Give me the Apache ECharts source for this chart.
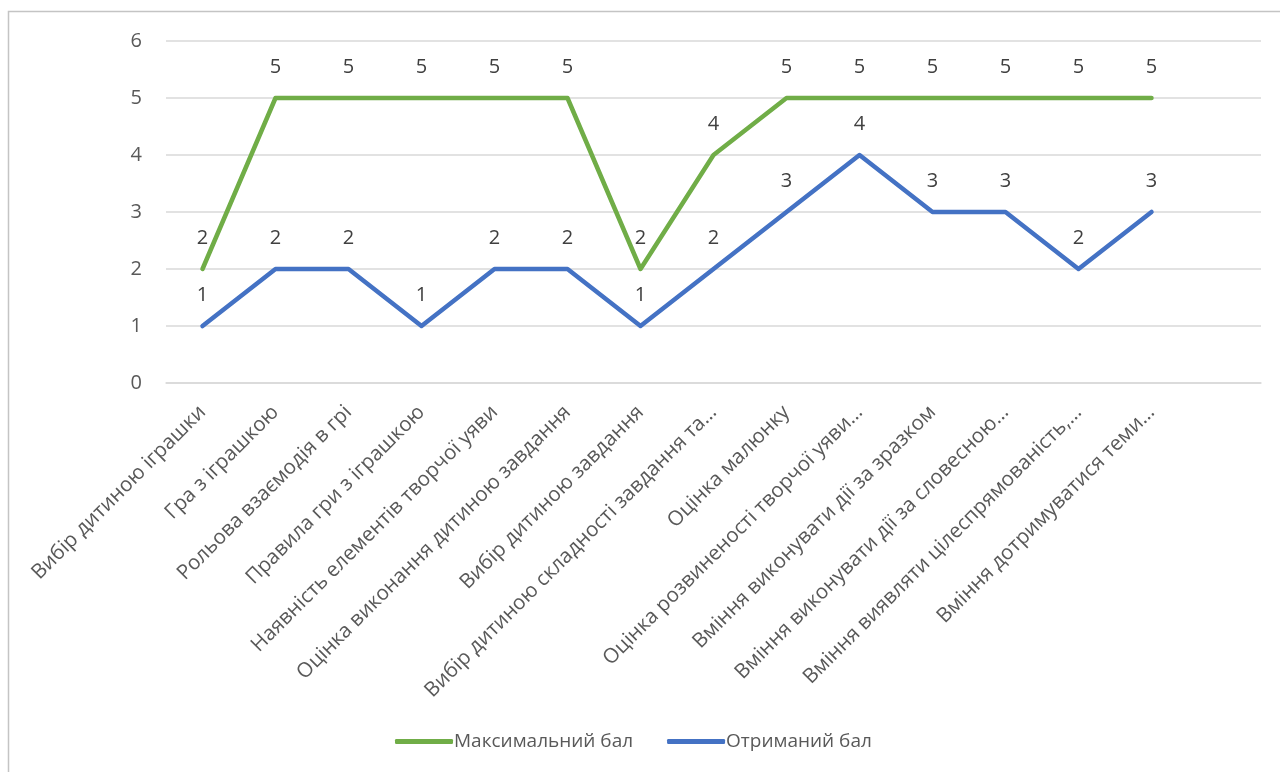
<!DOCTYPE html>
<html>
<head>
<meta charset="utf-8">
<script src="https://cdn.jsdelivr.net/npm/echarts@6/dist/echarts.min.js"></script>
<style>html,body{margin:0;padding:0;background:#fff;}#c{width:1280px;height:772px;}</style>
</head>
<body>
<div id="c"></div>
<script>
const categories = [
  "Вибір дитиною іграшки",
  "Гра з іграшкою",
  "Рольова взаємодія в грі",
  "Правила гри з іграшкою",
  "Наявність елементів творчої уяви",
  "Оцінка виконання дитиною завдання",
  "Вибір дитиною завдання",
  "Вибір дитиною складності завдання та…",
  "Оцінка малюнку",
  "Оцінка розвиненості творчої уяви…",
  "Вміння виконувати дії за зразком",
  "Вміння виконувати дії за словесною…",
  "Вміння виявляти цілеспрямованість,…",
  "Вміння дотримуватися теми…",
  ""
];
const maxScore = [2,5,5,5,5,5,2,4,5,5,5,5,5,5,null];
const gotScore = [1,2,2,1,2,2,1,2,3,4,3,3,2,3,null];
const seriesNames = ["Максимальний бал", "Отриманий бал"];
const yTicks = [0,1,2,3,4,5,6];

const FONT = "'Open Sans', sans-serif";
const chart = echarts.init(document.getElementById('c'), null, {renderer:'canvas'});
function lineSeries(name, data, color) {
  return {
    name: name, type: 'line', data: data,
    symbol: 'circle', symbolSize: 0.5, showSymbol: true, showAllSymbol: true, color: color,
    itemStyle: {color: color},
    lineStyle: {width: 4.5, color: color, cap: 'round', join: 'round'},
    label: {show: true, position: 'top', distance: 20, fontFamily: FONT, fontSize: 20, color: '#404040'},
    labelLayout: {hideOverlap: false}
  };
}
chart.setOption({
  animation: false,
  backgroundColor: '#fff',
  graphic: [{
    type: 'rect', silent: true,
    shape: {x: 8.5, y: 11.5, width: 1400, height: 900},
    style: {fill: 'none', stroke: '#c4c4c4', lineWidth: 1.5}
  }],
  grid: {left: 166, right: 19, top: 41, bottom: 389, containLabel: false},
  legend: {
    data: seriesNames.map(function(n){ return {name: n, icon: 'roundRect'}; }),
    bottom: 21,
    left: 395,
    padding: 0,
    itemWidth: 58,
    itemHeight: 5,
    itemGap: 34,
    textStyle: {fontFamily: FONT, fontSize: 19, color: '#595959', padding: [0,0,0,-4]}
  },
  xAxis: {
    type: 'category',
    data: categories,
    boundaryGap: true,
    axisLine: {lineStyle: {color: '#d9d9d9', width: 1.5}},
    axisTick: {show: false},
    axisLabel: {rotate: 45, interval: 0, margin: 26, fontFamily: FONT, fontSize: 20.5, color: '#595959'}
  },
  yAxis: {
    type: 'value',
    min: yTicks[0], max: yTicks[yTicks.length-1], interval: 1,
    axisLine: {show: false},
    axisTick: {show: false},
    splitLine: {lineStyle: {color: '#d9d9d9', width: 1.5}},
    axisLabel: {margin: 24, fontFamily: FONT, fontSize: 20, color: '#595959'}
  },
  series: [
    lineSeries(seriesNames[0], maxScore, '#70ad47'),
    lineSeries(seriesNames[1], gotScore, '#4472c4')
  ]
});
</script>
</body>
</html>
